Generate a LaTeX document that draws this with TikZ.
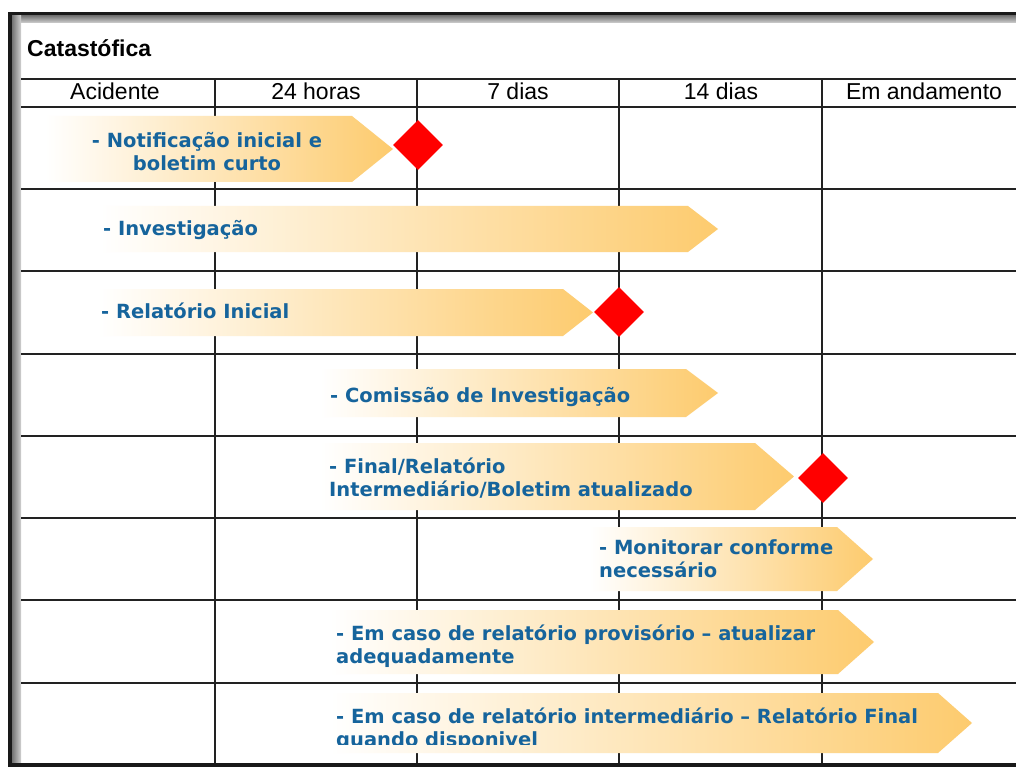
\documentclass[tikz,border=0pt]{standalone}
\usepackage{fontspec}
\setmainfont{Liberation Sans}
\newfontfamily\bluefont{DejaVu Sans}
\usetikzlibrary{shapes.geometric}
\definecolor{txtblue}{RGB}{22,100,156}
\definecolor{arrorange}{RGB}{253,203,110}
\definecolor{gridc}{RGB}{34,34,34}
\definecolor{diamred}{RGB}{255,0,0}
\newcommand{\gradarrow}[5]{\shade[left color=white, right color=arrorange] (#1,#2) -- (#4,#2) -- (#5,{(#2+#3)/2}) -- (#4,#3) -- (#1,#3) -- cycle;}
\begin{document}
\begin{tikzpicture}[x=1pt,y=-1pt,
  gridline/.style={draw=gridc, line width=2pt},
  headtxt/.style={anchor=base, inner sep=0pt, font=\fontsize{23}{26}\selectfont},
  tasktxt/.style={anchor=base west, inner sep=0pt, text=txtblue, align=left,
     font=\bluefont\bfseries\fontsize{19.5}{23}\selectfont},
  milestone/.style={diamond, fill=diamred, minimum width=50pt, minimum height=50pt, inner sep=0pt}]
\useasboundingbox (0,0) rectangle (1016,767);
\fill[white] (0,0) rectangle (1016,767);
% frame
\fill[black!90] (8,12.5) rectangle (1016,15.5);
\shade[top color=black!55, bottom color=black!18] (12,15.5) rectangle (1016,23);
\fill[black!90] (8,12.5) rectangle (12,767);
\shade[left color=black!55, right color=black!18] (12,15.5) rectangle (21,767);
\fill[black!90] (12,762.5) rectangle (1016,767);
% title
\node[anchor=base west, inner sep=0pt, font=\bfseries\fontsize{23}{26}\selectfont] (title) at (27,57) {Catastófica};
% grid
\foreach \yy in {79,107,189,271,354,436,518,600,683}
  \draw[gridline] (21,\yy) -- (1016,\yy);
\foreach \xx in {215,417,619,822}
  \draw[gridline] (\xx,79) -- (\xx,763);
% header
\node[headtxt] (h1) at (115,100) {Acidente};
\node[headtxt] (h2) at (316,100) {24 horas};
\node[headtxt] (h3) at (518,100) {7 dias};
\node[headtxt] (h4) at (721,100) {14 dias};
\node[headtxt] (h5) at (924,100) {Em andamento};
% arrows
\gradarrow{45}{116}{182}{352}{393}
\gradarrow{100}{206}{252}{688}{718}
\gradarrow{98}{289}{336}{563}{593}
\gradarrow{320}{369}{417}{686}{718}
\gradarrow{320}{443}{510}{755}{794}
\gradarrow{590}{527}{591}{837}{873}
\gradarrow{330}{610}{674}{838}{874}
\gradarrow{330}{693}{753}{938}{972}
% milestones
\node[milestone] (m1) at (418,145) {};
\node[milestone] (m2) at (619,312) {};
\node[milestone] (m3) at (823,478) {};
% texts (multi-line nodes: base = last line)
\node[tasktxt, anchor=base, align=center] (t1) at (207,171) {- Notificação inicial e\\boletim curto};
\node[tasktxt] (t2) at (103,236) {- Investigação};
\node[tasktxt] (t3) at (101,318) {- Relatório Inicial};
\node[tasktxt] (t4) at (330,402) {- Comissão de Investigação};
\node[tasktxt] (t5) at (329,496) {- Final/Relatório\\Intermediário/Boletim atualizado};
\node[tasktxt] (t6) at (599,577) {- Monitorar conforme\\necessário};
\node[tasktxt] (t7) at (336,663) {- Em caso de relatório provisório – atualizar\\adequadamente};
\begin{scope}
\clip (0,0) rectangle (1016,744.5);
\node[tasktxt] (t8) at (336,746) {- Em caso de relatório intermediário – Relatório Final\\quando disponivel};
\end{scope}
\end{tikzpicture}
\end{document}
